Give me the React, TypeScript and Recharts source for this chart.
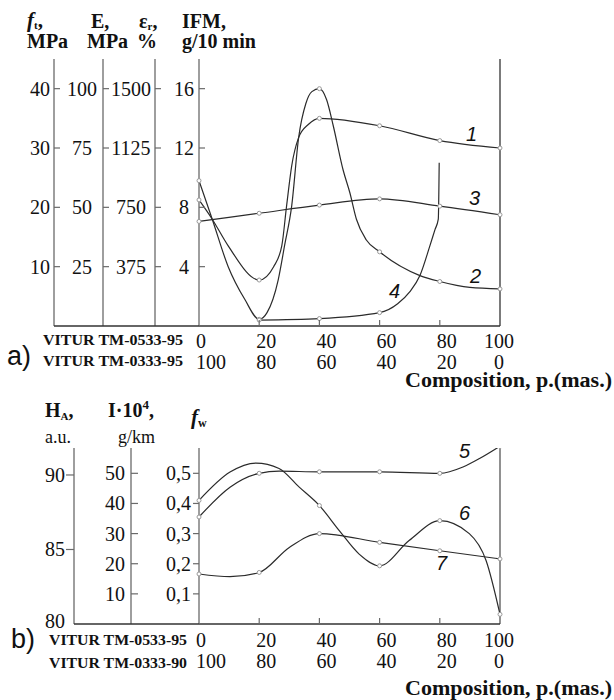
import React from "react";
import { LineChart, Line, XAxis, YAxis, ReferenceLine } from "recharts";

const SERIF = "Liberation Serif, Times New Roman, serif";
const SANS = "Liberation Sans, Arial, sans-serif";
const INK = "#2b2b2b";
const AXIS = "#6a6a6a";

// ось x — состав, % VITUR TM-0533-95 (вторая строка = 100 - x)
const compositionTicks = [0, 20, 40, 60, 80, 100];

// a) левые шкалы (все привязаны к сетке IFM)
const ftTicks = [10, 20, 30, 40];
const eTicks = [25, 50, 75, 100];
const epsTicks = [375, 750, 1125, 1500];
const ifmTicks = [4, 8, 12, 16];

// a) кривые 1-4, в единицах IFM
const c1X = [0, 4.4, 9.7, 20, 24.8, 27.5, 29.1, 30.8, 33.1, 36.4, 40, 60, 80, 100];
const c1Y = [8.5, 7.2, 5.4, 3.1, 4.0, 5.4, 8.1, 10.8, 12.7, 13.6, 14.0, 13.5, 12.5, 12.0];
const c2X = [0, 4.4, 9.7, 15.2, 20, 22.6, 26.3, 28.5, 30.8, 33.1, 35.5, 37.5, 40, 42.4, 44.6, 47.9, 50.1, 52.3, 55.6, 60, 73.4, 80, 90, 100];
const c2Y = [9.8, 7.2, 4.0, 1.8, 0.45, 0.9, 3.1, 5.5, 8.1, 12.7, 15.0, 15.8, 16.0, 15.25, 13.5, 10.5, 9.0, 7.2, 5.8, 5.0, 3.4, 3.0, 2.6, 2.5];
const c3X = [0, 20, 40, 60, 80, 100];
const c3Y = [7.05, 7.6, 8.15, 8.57, 8.08, 7.5];
const c4X = [20, 40, 60, 66, 70, 73.4, 76.7, 78.4, 79.5, 79.8];
const c4Y = [0.4, 0.5, 0.9, 1.5, 2.3, 3.4, 5.4, 6.5, 7.2, 11.0];

// b) левые шкалы
const haTicks = [80, 85, 90];
const iTicks = [10, 20, 30, 40, 50];
const fwTicks = [0.1, 0.2, 0.3, 0.4, 0.5];

// b) кривые 5-7, в единицах f_w
const c5X = [0, 10.3, 20, 26.6, 40, 60, 80, 87.7, 93.2, 100];
const c5Y = [0.355, 0.454, 0.5, 0.507, 0.505, 0.505, 0.5, 0.521, 0.549, 0.59];
const c6X = [0, 10.3, 18.9, 26.6, 33.3, 40, 46.6, 53.2, 60, 69.8, 80, 89.8, 95.4, 100];
const c6Y = [0.41, 0.504, 0.534, 0.516, 0.454, 0.393, 0.31, 0.232, 0.193, 0.277, 0.343, 0.3, 0.21, 0.032];
const c7X = [0, 10.3, 20, 30, 40, 60, 80, 100];
const c7Y = [0.166, 0.157, 0.171, 0.254, 0.3, 0.271, 0.243, 0.216];

const pts = (xs: number[], ys: number[]) => xs.map((x, i) => ({ x, y: ys[i] }));

// маркер только в узлах 0,20,...,100
const Marker = (p: any) => {
  if (p.payload.x % 20 !== 0) return <g key={p.index} />;
  return <circle key={p.index} cx={p.cx} cy={p.cy} r={2} fill="#fff" stroke="#999" strokeWidth={1} />;
};

const leftTick = (dx: number, anchor: string, tickLen: number, fmt = (v: number) => String(v), floorLabel = false) => (p: any) => {
  const v = p.payload.value;
  const atFloor = floorLabel && v === 80;
  return (
    <g>
      {!atFloor && <line x1={p.x} y1={p.y} x2={p.x + tickLen} y2={p.y} stroke={AXIS} strokeWidth={1.2} />}
      <text x={p.x + dx} y={p.y + (atFloor ? 4 : 7)} textAnchor={anchor} fontFamily={SERIF} fontSize={20} fill="#111">
        {fmt(v)}
      </text>
    </g>
  );
};

const bottomTick = (row1: number, row2: number) => (p: any) => {
  const v = p.payload.value;
  const last = v === 100;
  const tx = last ? p.x - 1 : p.x - 3;
  const anchor = last ? "middle" : "start";
  return (
    <g>
      {v > 0 && v < 100 && <line x1={p.x} y1={p.y} x2={p.x} y2={p.y - 6} stroke={AXIS} strokeWidth={1.2} />}
      <text x={tx} y={p.y + row1} textAnchor={anchor} fontFamily={SERIF} fontSize={20} fill="#111">{v}</text>
      <text x={tx} y={p.y + row2} textAnchor={anchor} fontFamily={SERIF} fontSize={20} fill="#111">{100 - v}</text>
    </g>
  );
};

const fmtComma = (v: number) => v.toFixed(1).replace(".", ",");

// yAxisId задают порядок: по алфавиту — от графика наружу
function PanelA() {
  return (
    <LineChart width={614} height={390} margin={{ top: 59, right: 114, bottom: 0, left: 8 }}>
      <XAxis dataKey="x" type="number" domain={[0, 100]} ticks={compositionTicks} interval={0}
        height={64} tickSize={0} tickMargin={0} tickLine={false}
        axisLine={{ stroke: "#333", strokeWidth: 1.3 }} tick={bottomTick(22, 43)} />
      <YAxis yAxisId="a_ifm" type="number" domain={[0, 18]} allowDataOverflow ticks={ifmTicks} interval={0}
        width={44} tickSize={0} tickMargin={0} tickLine={false} axisLine={{ stroke: AXIS, strokeWidth: 1.3 }}
        tick={leftTick(-15, "middle", 6)} />
      <YAxis yAxisId="b_eps" type="number" domain={[0, 1687.5]} allowDataOverflow ticks={epsTicks} interval={0}
        width={52} tickSize={0} tickMargin={0} tickLine={false} axisLine={{ stroke: AXIS, strokeWidth: 1.3 }}
        tick={leftTick(-24, "middle", 6)} />
      <YAxis yAxisId="c_e" type="number" domain={[0, 112.5]} allowDataOverflow ticks={eTicks} interval={0}
        width={49} tickSize={0} tickMargin={0} tickLine={false} axisLine={{ stroke: AXIS, strokeWidth: 1.3 }}
        tick={leftTick(-21, "middle", 6)} />
      <YAxis yAxisId="d_ft" type="number" domain={[0, 45]} allowDataOverflow ticks={ftTicks} interval={0}
        width={46} tickSize={0} tickMargin={0} tickLine={false} axisLine={{ stroke: AXIS, strokeWidth: 1.3 }}
        tick={leftTick(-4, "end", 6)} />
      <ReferenceLine yAxisId="a_ifm" x={100} stroke="#333" strokeWidth={1.3} />
      <Line yAxisId="a_ifm" data={pts(c1X, c1Y)} dataKey="y" type="monotone" stroke={INK} strokeWidth={1.2} dot={Marker} activeDot={false} isAnimationActive={false} />
      <Line yAxisId="a_ifm" data={pts(c2X, c2Y)} dataKey="y" type="monotone" stroke={INK} strokeWidth={1.2} dot={Marker} activeDot={false} isAnimationActive={false} />
      <Line yAxisId="a_ifm" data={pts(c3X, c3Y)} dataKey="y" type="monotone" stroke={INK} strokeWidth={1.2} dot={Marker} activeDot={false} isAnimationActive={false} />
      <Line yAxisId="a_ifm" data={pts(c4X, c4Y)} dataKey="y" type="monotone" stroke={INK} strokeWidth={1.2} dot={Marker} activeDot={false} isAnimationActive={false} />
    </LineChart>
  );
}

function PanelB() {
  return (
    <LineChart width={614} height={310} margin={{ top: 58, right: 114, bottom: 0, left: 8 }}>
      <XAxis dataKey="x" type="number" domain={[0, 100]} ticks={compositionTicks} interval={0}
        height={76} tickSize={0} tickMargin={0} tickLine={false}
        axisLine={{ stroke: "#333", strokeWidth: 1.3 }} tick={bottomTick(23, 44)} />
      <YAxis yAxisId="a_fw" type="number" domain={[0, 0.584]} allowDataOverflow ticks={fwTicks} interval={0}
        width={68} tickSize={0} tickMargin={0} tickLine={false} axisLine={{ stroke: AXIS, strokeWidth: 1.3 }}
        tick={leftTick(-8, "end", -6, fmtComma)} />
      <YAxis yAxisId="b_i" type="number" domain={[0, 58.4]} allowDataOverflow ticks={iTicks} interval={0}
        width={57} tickSize={0} tickMargin={0} tickLine={false} axisLine={{ stroke: AXIS, strokeWidth: 1.3 }}
        tick={leftTick(-6, "end", 7)} />
      <YAxis yAxisId="c_ha" type="number" domain={[80, 91.81]} allowDataOverflow ticks={haTicks} interval={0}
        width={66} tickSize={0} tickMargin={0} tickLine={false} axisLine={{ stroke: AXIS, strokeWidth: 1.3 }}
        tick={leftTick(-9, "end", -8, String, true)} />
      <ReferenceLine yAxisId="a_fw" x={100} stroke="#555" strokeWidth={1.3} />
      <Line yAxisId="a_fw" data={pts(c5X, c5Y)} dataKey="y" type="monotone" stroke={INK} strokeWidth={1.2} dot={Marker} activeDot={false} isAnimationActive={false} />
      <Line yAxisId="a_fw" data={pts(c6X, c6Y)} dataKey="y" type="monotone" stroke={INK} strokeWidth={1.2} dot={Marker} activeDot={false} isAnimationActive={false} />
      <Line yAxisId="a_fw" data={pts(c7X, c7Y)} dataKey="y" type="monotone" stroke={INK} strokeWidth={1.2} dot={Marker} activeDot={false} isAnimationActive={false} />
    </LineChart>
  );
}

const T = ({ bold, ...props }: any) => (
  <text fontFamily={SERIF} fill="#111" fontWeight={bold ? 700 : 400} {...props} />
);
const CurveLabel = ({ x, y, children }: any) => (
  <text x={x} y={y} fontFamily={SANS} fontStyle="italic" fontSize={20} fill="#111">{children}</text>
);

function Overlay() {
  return (
    <svg width={614} height={700} style={{ position: "absolute", left: 0, top: 0, pointerEvents: "none" }}>
      {/* a) заголовки шкал */}
      <T bold x={27} y={27} fontSize={21}>
        <tspan fontStyle="italic">f</tspan>
        <tspan fontSize={11} dy={2}>t</tspan>
        <tspan dy={-2}>,</tspan>
      </T>
      <T bold x={27} y={48} fontSize={20}>MPa</T>
      <T bold x={91} y={28} fontSize={20}>E,</T>
      <T bold x={87} y={48} fontSize={20}>MPa</T>
      <T bold x={139} y={28} fontSize={20}>
        ε<tspan fontSize={11} dy={2}>r</tspan><tspan dy={-2}>,</tspan>
      </T>
      <T bold x={137} y={48} fontSize={20}>%</T>
      <T bold x={182} y={28} fontSize={20}>IFM,</T>
      <T bold x={182} y={48} fontSize={20}>g/10 min</T>

      {/* a) продолжение оси x влево */}
      <line x1={54} y1={326} x2={199} y2={326} stroke="#333" strokeWidth={1.3} />
      <T bold x={43} y={345} fontSize={15} textLength={140} lengthAdjust="spacingAndGlyphs">VITUR TM-0533-95</T>
      <T bold x={43} y={366} fontSize={15} textLength={140} lengthAdjust="spacingAndGlyphs">VITUR TM-0333-95</T>
      <text x={7} y={365} fontFamily={SANS} fontSize={27} fill="#111">a)</text>
      <T bold x={405} y={387} fontSize={20} textLength={207} lengthAdjust="spacingAndGlyphs">Composition, p.(mas.)</T>

      <CurveLabel x={466} y={141}>1</CurveLabel>
      <CurveLabel x={469} y={205}>3</CurveLabel>
      <CurveLabel x={470} y={283}>2</CurveLabel>
      <CurveLabel x={389} y={298}>4</CurveLabel>

      {/* b) заголовки шкал */}
      <T bold x={45} y={417} fontSize={20}>
        H<tspan fontSize={11} dy={3}>A</tspan><tspan dy={-3}>,</tspan>
      </T>
      <T x={45} y={443} fontSize={18}>a.u.</T>
      <T bold x={108} y={417} fontSize={20}>
        I·10<tspan fontSize={13} dy={-8}>4</tspan><tspan dy={8}>,</tspan>
      </T>
      <T x={118} y={443} fontSize={18}>g/km</T>
      <T bold x={191} y={424} fontSize={21}>
        <tspan fontStyle="italic">f</tspan>
        <tspan fontSize={12} dy={3}>w</tspan>
      </T>

      <line x1={74} y1={624} x2={199} y2={624} stroke="#333" strokeWidth={1.3} />
      <T bold x={49} y={645} fontSize={15} textLength={138} lengthAdjust="spacingAndGlyphs">VITUR TM-0533-95</T>
      <T bold x={49} y={668} fontSize={15} textLength={138} lengthAdjust="spacingAndGlyphs">VITUR TM-0333-90</T>
      <text x={11} y={648} fontFamily={SANS} fontSize={27} fill="#111">b)</text>
      <T bold x={405} y={695} fontSize={20} textLength={207} lengthAdjust="spacingAndGlyphs">Composition, p.(mas.)</T>

      <CurveLabel x={459} y={458}>5</CurveLabel>
      <CurveLabel x={459} y={520}>6</CurveLabel>
      <CurveLabel x={436} y={570}>7</CurveLabel>
    </svg>
  );
}

export default function App() {
  return (
    <div style={{ position: "absolute", left: 0, top: 0, width: 614, height: 700, background: "#fff" }}>
      <div style={{ position: "absolute", left: 0, top: 0 }}>
        <PanelA />
      </div>
      <div style={{ position: "absolute", left: 0, top: 390 }}>
        <PanelB />
      </div>
      <Overlay />
    </div>
  );
}
